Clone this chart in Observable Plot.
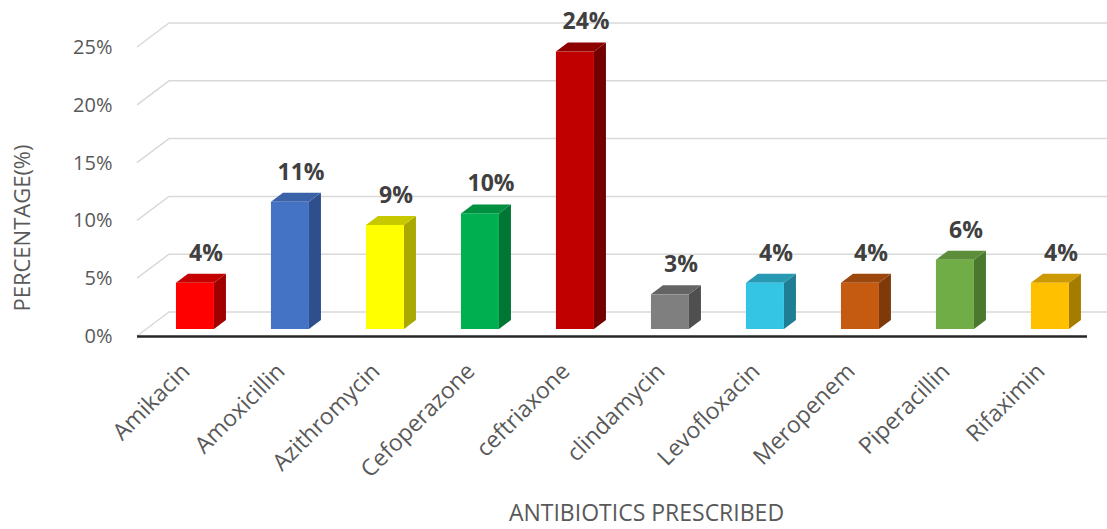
<!DOCTYPE html>
<html>
<head>
<meta charset="utf-8">
<script src="https://cdn.jsdelivr.net/npm/d3@7"></script>
<script src="https://cdn.jsdelivr.net/npm/@observablehq/plot@0.6"></script>
<style>
  html, body { margin: 0; padding: 0; background: #ffffff; }
  #chart svg { display: block; }
</style>
</head>
<body>
<div id="chart"></div>
<script>
// ---- data ----
const categories = ["Amikacin", "Amoxicillin", "Azithromycin", "Cefoperazone", "ceftriaxone",
                    "clindamycin", "Levofloxacin", "Meropenem", "Piperacillin", "Rifaximin"];
const percentages = [4, 11, 9, 10, 24, 3, 4, 4, 6, 4];
const yTicks = [0, 5, 10, 15, 20, 25];
const frontColors = ["#FF0000", "#4472C4", "#FFFF00", "#00B050", "#C00000",
                     "#7F7F7F", "#33C5E3", "#C55A11", "#70AD47", "#FFC000"];
const topColors   = ["#C40000", "#3A62A8", "#C8C800", "#009040", "#8E0000",
                     "#646464", "#2799B2", "#9C470E", "#5B8D3A", "#CC9900"];
const sideColors  = ["#A00000", "#2E4F8C", "#A8A800", "#007635", "#720000",
                     "#4F4F4F", "#1F7E93", "#7E3A0B", "#4A782E", "#A67C00"];

// ---- 3D geometry (pixels) ----
const FLOOR_DX = 32, FLOOR_DY = -24;
const BAR_DX = 12, BAR_DY = -9, BAR_BACK = 7;

function gridMark(index, scales, values, dim) {
  const g = d3.create("svg:g")
    .attr("fill", "none").attr("stroke", "#D9D9D9").attr("stroke-width", 1.5);
  for (const t of yTicks) {
    const y = scales.y(t);
    g.append("path")
      .attr("d", `M${dim.marginLeft},${y}L${dim.marginLeft + FLOOR_DX},${y + FLOOR_DY}H${dim.width}`);
  }
  return g.node();
}

function barsMark(index, scales, values, dim) {
  const x = scales.x, y = scales.y;
  const bw = typeof x.bandwidth === "function" && x.bandwidth() > 0
    ? x.bandwidth()
    : (dim.width - dim.marginLeft - dim.marginRight) / categories.length;
  const g = d3.create("svg:g");
  categories.forEach((c, i) => {
    const L = x(c) + bw * 0.41;
    const R = L + bw * 0.40;
    const base = y(0) - BAR_BACK;
    const top = y(percentages[i]) - BAR_BACK;
    // side face
    g.append("path")
      .attr("d", `M${R},${top}L${R + BAR_DX},${top + BAR_DY}L${R + BAR_DX},${base + BAR_DY}L${R},${base}Z`)
      .attr("fill", sideColors[i]);
    // top face
    g.append("path")
      .attr("d", `M${L},${top}L${L + BAR_DX},${top + BAR_DY}L${R + BAR_DX},${top + BAR_DY}L${R},${top}Z`)
      .attr("fill", topColors[i]);
    // front face
    g.append("rect")
      .attr("x", L).attr("y", top).attr("width", R - L).attr("height", base - top)
      .attr("fill", frontColors[i]);
  });
  return g.node();
}

const chart = Plot.plot({
  width: 1107,
  height: 529,
  marginLeft: 137,
  marginRight: 20,
  marginTop: 47,
  marginBottom: 193,
  style: { fontFamily: "'Open Sans', sans-serif", background: "#ffffff", color: "#595959" },
  x: { type: "band", domain: categories, padding: 0 },
  y: { domain: [0, 25] },
  marks: [
    gridMark,
    Plot.ruleY([0], { stroke: "#262626", strokeWidth: 2.5 }),
    barsMark,
    Plot.text(categories, {
      x: d => d,
      y: (d, i) => percentages[i],
      text: (d, i) => percentages[i] + "%",
      dx: 21,
      dy: -37,
      fontSize: 23,
      fontWeight: "bold",
      fill: "#404040"
    }),
    Plot.axisY({
      ticks: yTicks,
      tickFormat: d => d + "%",
      tickSize: 0,
      tickPadding: 25,
      fontSize: 20,
      fill: "#595959",
      label: null
    }),
    Plot.axisX({
      tickRotate: -45,
      tickSize: 0,
      tickPadding: 31,
      dx: 1,
      fontSize: 23,
      fill: "#595959",
      label: null
    }),
    Plot.text(["PERCENTAGE(%)"], {
      frameAnchor: "left",
      textAnchor: "middle",
      rotate: -90,
      dx: -115,
      dy: 36,
      fontSize: 22,
      fill: "#595959"
    }),
    Plot.text(["ANTIBIOTICS PRESCRIBED"], {
      frameAnchor: "bottom",
      dx: 34,
      dy: 184,
      fontSize: 23,
      fill: "#595959"
    })
  ]
});
document.getElementById("chart").appendChild(chart);
</script>
</body>
</html>
